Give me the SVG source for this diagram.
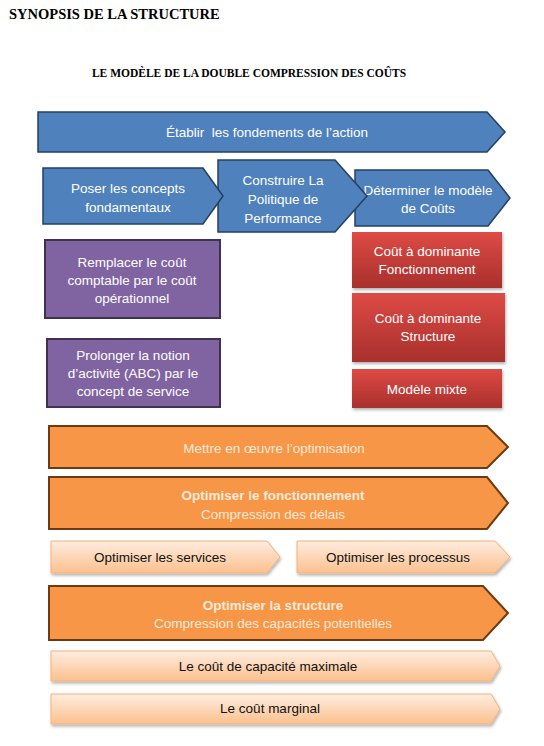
<svg xmlns="http://www.w3.org/2000/svg" width="544" height="746" viewBox="0 0 544 746">
<defs>
<linearGradient id="gRed" x1="0" y1="0" x2="0" y2="1">
<stop offset="0" stop-color="#DE4A45"/><stop offset="1" stop-color="#A8302C"/>
</linearGradient>
<linearGradient id="gPeach" x1="0" y1="0" x2="0" y2="1">
<stop offset="0" stop-color="#FEEDE0"/><stop offset="1" stop-color="#FBC08E"/>
</linearGradient>
<filter id="sh" x="-10%" y="-20%" width="120%" height="150%">
<feDropShadow dx="1" dy="2" stdDeviation="1.5" flood-color="#000" flood-opacity="0.3"/>
</filter>
<style>
.t{font-family:"Liberation Sans",Arial,sans-serif;font-size:13.5px;text-anchor:middle}
.w{fill:#ffffff}
.k{fill:#111111}
.lo{fill:#FDEADA}
.b{font-weight:bold}
.blue{fill:#4F81BD;stroke:#243F60;stroke-width:1.5}
.pur{fill:#8064A2;stroke:#3F3151;stroke-width:2}
.red{fill:url(#gRed);stroke:none;filter:url(#sh)}
.ora{fill:#F79646;stroke:#6E3A10;stroke-width:2}
.pea{fill:url(#gPeach);stroke:#F5B27E;stroke-width:1;filter:url(#sh)}
.h{font-family:"Liberation Serif","Times New Roman",serif;font-weight:bold;fill:#000}
</style>
</defs>
<rect width="544" height="746" fill="#ffffff"/>
<text class="h" x="9" y="19" font-size="14.5">SYNOPSIS DE LA STRUCTURE</text>
<text class="h" x="249" y="77" font-size="11.5" text-anchor="middle">LE MODÈLE DE LA DOUBLE COMPRESSION DES COÛTS</text>

<g id="connectors"></g>

<g id="n-etablir">
<polygon class="blue" points="38,112 487,112 505,132 487,152 38,152"/>
<text class="t w" x="267" y="137">Établir&#160; les fondements de l’action</text>
</g>
<g id="n-determiner">
<polygon class="blue" points="355,170 488,170 510,198 488,226 355,226"/>
<text class="t w" x="428" y="195">Déterminer le modèle</text>
<text class="t w" x="428" y="213">de Coûts</text>
</g>
<g id="n-construire">
<polygon class="blue" points="218,160 335,160 367,196 335,232 218,232"/>
<text class="t w" x="283" y="185">Construire La</text>
<text class="t w" x="283" y="204">Politique de</text>
<text class="t w" x="283" y="223">Performance</text>
</g>
<g id="n-poser">
<polygon class="blue" points="43,168 203,168 223,196 203,224 43,224"/>
<text class="t w" x="128" y="193">Poser les concepts</text>
<text class="t w" x="128" y="212">fondamentaux</text>
</g>

<g id="n-remplacer">
<rect class="pur" x="45" y="240" width="175" height="78"/>
<text class="t w" x="132" y="267">Remplacer le coût</text>
<text class="t w" x="132" y="285">comptable par le coût</text>
<text class="t w" x="132" y="303">opérationnel</text>
</g>
<g id="n-prolonger">
<rect class="pur" x="47" y="339" width="173" height="68"/>
<text class="t w" x="133" y="360">Prolonger la notion</text>
<text class="t w" x="133" y="378">d’activité (ABC) par le</text>
<text class="t w" x="133" y="396">concept de service</text>
</g>

<g id="n-cout-fonct">
<rect class="red" x="352" y="232" width="150" height="56"/>
<text class="t w" x="427" y="256">Coût à dominante</text>
<text class="t w" x="427" y="274">Fonctionnement</text>
</g>
<g id="n-cout-struct">
<rect class="red" x="352" y="293" width="153" height="69"/>
<text class="t w" x="428" y="323">Coût à dominante</text>
<text class="t w" x="428" y="341">Structure</text>
</g>
<g id="n-mixte">
<rect class="red" x="352" y="369" width="150" height="39"/>
<text class="t w" x="427" y="394">Modèle mixte</text>
</g>

<g id="n-mettre">
<polygon class="ora" points="49,426 487,426 508,447 487,468 49,468"/>
<text class="t lo" x="274" y="453">Mettre en œuvre l’optimisation</text>
</g>
<g id="n-opt-fonct">
<polygon class="ora" points="49,477 487,477 508,503 487,529 49,529"/>
<text class="t lo b" x="273" y="500">Optimiser le fonctionnement</text>
<text class="t lo" x="273" y="519">Compression des délais</text>
</g>
<g id="n-services">
<polygon class="pea" points="51,541 267,541 280,557 267,573 51,573"/>
<text class="t k" x="160" y="562">Optimiser les services</text>
</g>
<g id="n-processus">
<polygon class="pea" points="297,541 495,541 510,557 495,573 297,573"/>
<text class="t k" x="398" y="562">Optimiser les processus</text>
</g>
<g id="n-opt-struct">
<polygon class="ora" points="49,586 483,586 508,613 483,640 49,640"/>
<text class="t lo b" x="273" y="610">Optimiser la structure</text>
<text class="t lo" x="273" y="628">Compression des capacités potentielles</text>
</g>
<g id="n-capacite">
<polygon class="pea" points="51,651 491,651 500,666 491,681 51,681"/>
<text class="t k" x="268" y="671">Le coût de capacité maximale</text>
</g>
<g id="n-marginal">
<polygon class="pea" points="51,694 491,694 500,709 491,724 51,724"/>
<text class="t k" x="270" y="713">Le coût marginal</text>
</g>
</svg>
